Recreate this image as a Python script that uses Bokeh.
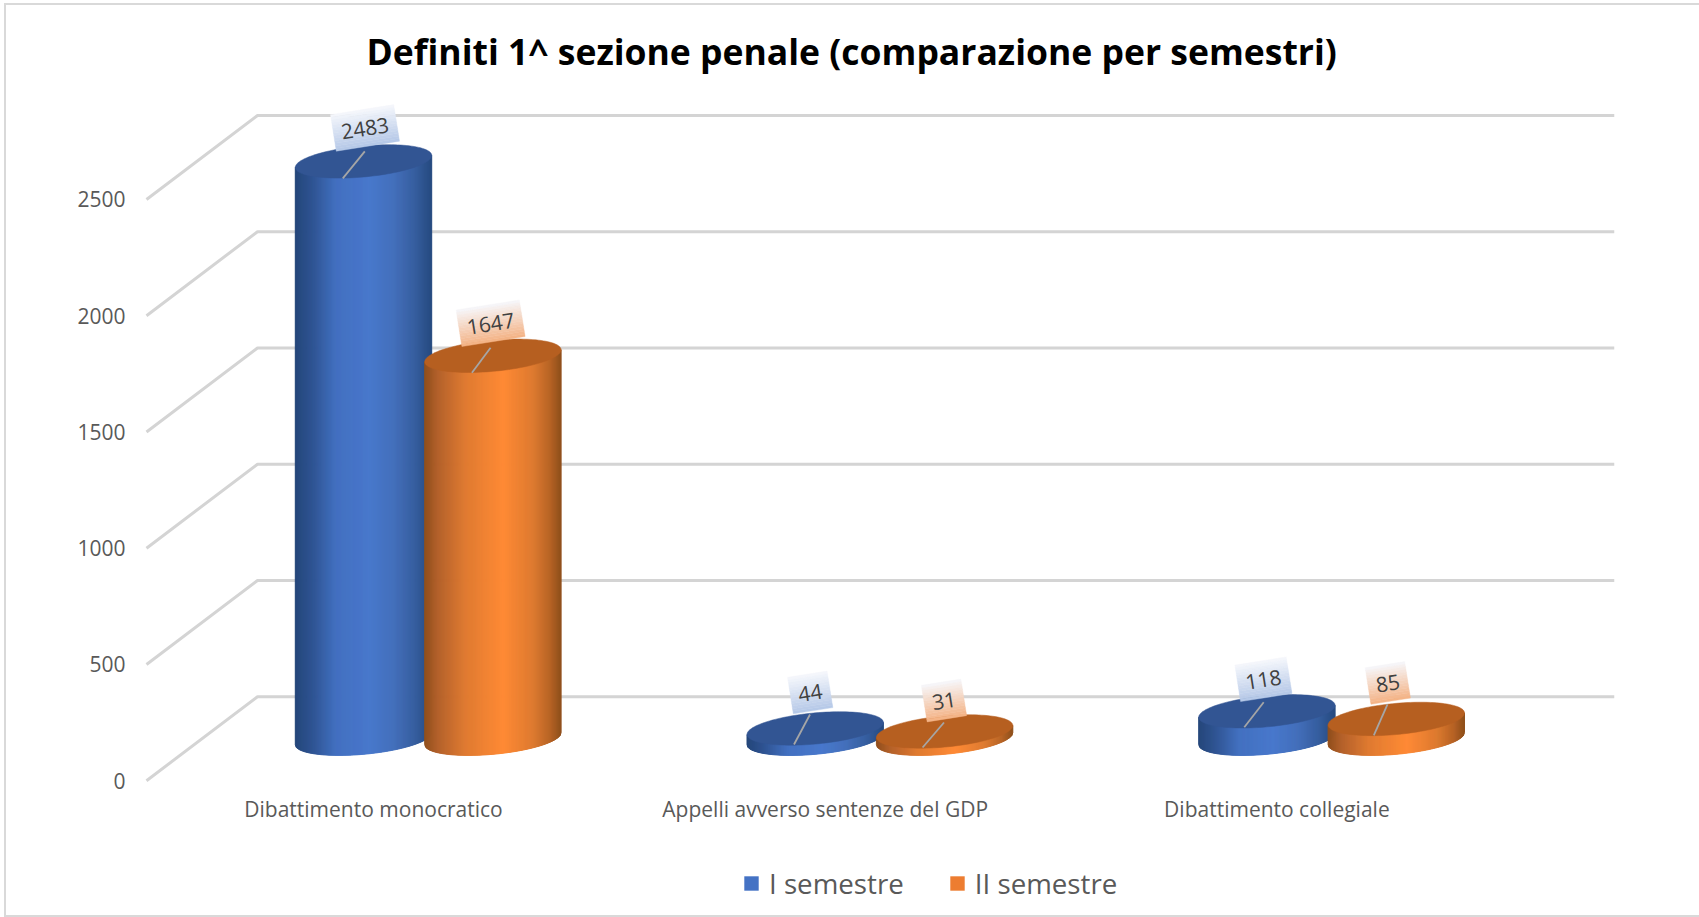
from bokeh.plotting import figure
from bokeh.embed import file_html
from bokeh.resources import INLINE
from bokeh.models import Range1d, FixedTicker, Legend, LegendItem
from bokeh.core.properties import value
import numpy as np

# ---- data ----
categories = ["Dibattimento monocratico", "Appelli avverso sentenze del GDP", "Dibattimento collegiale"]
semestre_1 = [2483, 44, 118]
semestre_2 = [1647, 31, 85]
series_names = ["I semestre", "II semestre"]
y_ticks = [0, 500, 1000, 1500, 2000, 2500]

# ---- geometry / style ----
W, H = 1699, 917
FRAME_L, FRAME_R, FRAME_T, FRAME_B = 130, 1614, 95, 917
AXIS_PX = 790       # px row where the category axis sits
CAT_X0 = 373.0      # px of category 0 label
CAT_DX = 451.7      # px per category
PX_PER_UNIT = 116.25 / 500
Y0_PX = 780.2       # px of value 0 on the front plane
DEPTH_PX = 84.0     # px height of the floor
DEPTH_DX = 111.0    # px horizontal run of the floor
FONT = "Open Sans"

def ux(px):  # horizontal pixel length -> category units
    return px / CAT_DX
def uy(px):  # vertical pixel length -> value units
    return px / PX_PER_UNIT

x_start = (FRAME_L - CAT_X0) / CAT_DX
x_end = (FRAME_R - CAT_X0) / CAT_DX
y_start = (Y0_PX - FRAME_B) / PX_PER_UNIT
y_end = (Y0_PX - FRAME_T) / PX_PER_UNIT

p = figure(width=W, height=H, output_backend="svg", toolbar_location=None,
           frame_width=FRAME_R - FRAME_L, frame_height=FRAME_B - FRAME_T,
           x_range=Range1d(x_start, x_end), y_range=Range1d(y_start, y_end),
           min_border_left=FRAME_L, min_border_right=W - FRAME_R,
           min_border_top=FRAME_T, min_border_bottom=0,
           background_fill_alpha=0, border_fill_alpha=0,
           outline_line_color=None)
# chart frame: left, top and bottom edges of the chart area
EDGE = "linear-gradient(#d9d9d9,#d9d9d9)"
p.styles = {"position": "absolute", "left": "0px", "top": "0px",
            "background": f"{EDGE} 4px 3px/2px 914px no-repeat, "
                          f"{EDGE} 4px 3px/1695px 2px no-repeat, "
                          f"{EDGE} 4px 915px/1695px 2px no-repeat, white"}
p.grid.visible = False

# title
p.title.text = "Definiti 1^ sezione penale (comparazione per semestri)"
p.title.text_font = FONT
p.title.text_font_style = "bold"
p.title.text_font_size = "35.5px"
p.title.text_color = "#000000"
p.title.align = "left"
p.title.offset = 236
p.title.standoff = 42

# axes
ax = p.xaxis[0]
ax.fixed_location = (Y0_PX - AXIS_PX) / PX_PER_UNIT
ax.ticker = FixedTicker(ticks=list(range(len(categories))))
ax.major_label_overrides = {i: c for i, c in enumerate(categories)}
ax.axis_line_color = None
ax.major_tick_line_color = None
ax.minor_tick_line_color = None
ax.major_tick_out = 0
ax.major_label_standoff = 4
ax.major_label_text_font = FONT
ax.major_label_text_font_size = "21px"
ax.major_label_text_color = "#595959"

ay = p.yaxis[0]
ay.ticker = FixedTicker(ticks=y_ticks)
ay.axis_line_color = None
ay.major_tick_line_color = None
ay.minor_tick_line_color = None
ay.major_tick_out = 0
ay.major_label_standoff = 5
ay.major_label_text_font = FONT
ay.major_label_text_font_size = "21px"
ay.major_label_text_color = "#595959"

# 3D gridlines
back_x = x_start + ux(146 + DEPTH_DX - FRAME_L)
front_x = x_start + ux(146 - FRAME_L)
gx = [[front_x, back_x, x_end] for _ in y_ticks]
gy = [[t, t + uy(DEPTH_PX), t + uy(DEPTH_PX)] for t in y_ticks]
p.multi_line(gx, gy, line_color="#d4d4d4", line_width=3)

# cylinders
BLUE = dict(pos=[0, .13, .3, .55, .72, .88, 1],
            col=["#244679", "#2f5493", "#4270c0", "#4878cc", "#4470bc", "#365e9f", "#254a80"],
            top="#325593", flag="#b4c7e7", legend="#4472c4")
ORANGE = dict(pos=[0, .1, .3, .58, .8, .92, 1],
              col=["#8f4e1b", "#b3602a", "#df7a30", "#ff8a35", "#dd7a30", "#b86425", "#8f4f1a"],
              top="#b65f20", flag="#f4b183", legend="#ed7d31")

RX, RY, TILT = 68.2, 15.6, 6.0
N = 136

def hexrgb(c):
    return np.array([int(c[i:i + 2], 16) for i in (1, 3, 5)], float)

def ramp(style, t):
    cols = np.array([hexrgb(c) for c in style["col"]])
    rgb = [np.interp(t, style["pos"], cols[:, k]) for k in range(3)]
    return "#%02x%02x%02x" % tuple(int(round(v)) for v in rgb)

def cylinder(xc, val, style):
    base = uy(DEPTH_PX) / 2
    edge = np.linspace(-1, 1, N + 1)
    sx = xc + edge * ux(RX)
    tilt = edge * uy(TILT)
    low = base + tilt - np.sqrt(1 - edge ** 2) * uy(RY)
    high = base + val + tilt
    xs, ys, cs = [], [], []
    for k in range(N):
        xs.append([sx[k], sx[k + 1], sx[k + 1], sx[k]])
        ys.append([low[k], low[k + 1], high[k + 1], high[k]])
        cs.append(ramp(style, (k + .5) / N))
    p.patches(xs, ys, fill_color=cs, line_color=cs, line_width=1)
    th = np.linspace(0, 2 * np.pi, 121)
    ex = xc + np.cos(th) * ux(RX)
    ey = base + val + np.cos(th) * uy(TILT) + np.sin(th) * uy(RY)
    p.patch(ex, ey, fill_color=style["top"], line_color=style["top"], line_width=0.5)

OFF = [-10.0, 119.4]
STYLES = [BLUE, ORANGE]
SERIES = [semestre_1, semestre_2]

for i in range(len(categories)):
    for s in range(2):
        cylinder(i + ux(OFF[s]), SERIES[s][i], STYLES[s])

# data labels (flag + leader + rotated text)
ANGLE = 9.0
FLAG_W = {1: 40, 2: 40, 3: 52, 4: 64}
FLAG_H = 37
LABEL_OFF = [[(1.5, 33.5), (-5, 36), (-3.5, 32)],
             [(-2.3, 32.5), (-0.6, 31), (-8.5, 36)]]
LEADER = [[(1.3, 10, -20.7, -17), (-5.2, 14, -21.2, -16), (-3.2, 9, -22.6, -16)],
          [(-2.3, 8, -21, -17), (-0.6, 9, -22, -16), (-8.8, 14.5, -22.5, -16.5)]]

def mix(c1, c2, t):
    a, b = hexrgb(c1), hexrgb(c2)
    return "#%02x%02x%02x" % tuple(int(round(v)) for v in a + (b - a) * t)

def flag(xc, yc, w, style):
    a = np.radians(ANGLE)
    ca, sa = np.cos(a), np.sin(a)
    steps = 14
    xs, ys, cs = [], [], []
    for k in range(steps):
        v0, v1 = FLAG_H * (.5 - k / steps), FLAG_H * (.5 - (k + 1) / steps)
        pts = [(-w / 2, v0), (w / 2, v0), (w / 2, v1), (-w / 2, v1)]
        xs.append([xc + ux(u * ca - v * sa) for u, v in pts])
        ys.append([yc + uy(u * sa + v * ca) for u, v in pts])
        cs.append(mix("#f6f8fc", style["flag"], (k + .5) / steps))
    p.patches(xs, ys, fill_color=cs, line_color=cs, line_width=0.4)

for s in range(2):
    for i in range(len(categories)):
        val = SERIES[s][i]
        xc = i + ux(OFF[s])
        top = val + uy(DEPTH_PX) / 2
        dx, dy = LABEL_OFF[s][i]
        lx, ly = xc + ux(dx), top + uy(dy)
        l = LEADER[s][i]
        p.line([xc + ux(l[0]), xc + ux(l[2])], [top + uy(l[1]), top + uy(l[3])],
               line_color="#a6a6a6", line_width=1.8)
        flag(lx, ly, FLAG_W[len(str(val))], STYLES[s])
        p.text([lx], [ly], text=[str(val)], angle=ANGLE, angle_units="deg",
               text_font=value(FONT), text_font_size="21px", text_color="#404040",
               text_align="center", text_baseline="middle")

# legend: one key quad per series, kept outside the visible range
key_l, key_r = [x_end + 1], [x_end + 2]
r1 = p.quad(left=key_l, right=key_r, top=[1], bottom=[0], fill_color=BLUE["legend"], line_color=None)
r2 = p.quad(left=key_l, right=key_r, top=[1], bottom=[0], fill_color=ORANGE["legend"], line_color=None)
leg = Legend(items=[LegendItem(label=series_names[0], renderers=[r1]),
                    LegendItem(label=series_names[1], renderers=[r2])],
             orientation="horizontal", location=(612, 15),
             glyph_width=18, glyph_height=18, label_standoff=9, spacing=44,
             padding=0, margin=0, border_line_color=None, background_fill_alpha=0,
             label_text_font=FONT, label_text_font_size="27.7px", label_text_color="#595959")
p.add_layout(leg, "center")

open("out.html", "w").write(file_html(p, INLINE))
